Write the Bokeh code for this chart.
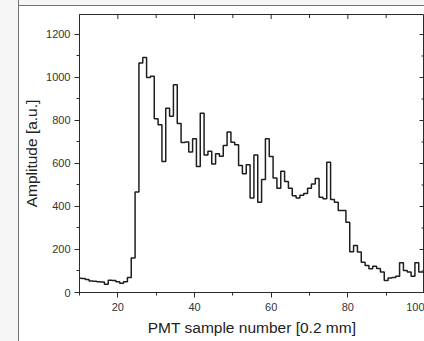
from bokeh.plotting import figure
from bokeh.models import Range1d, FixedTicker, GlobalInlineStyleSheet, Title
from bokeh.embed import file_html
from bokeh.resources import INLINE
import math

# PMT sample number (bin centres)
samples = list(range(10, 101))
# Amplitude [a.u.]
amplitude = [
    66, 65, 60, 53, 52, 50, 49, 38, 57, 56,        # 10-19
    50, 43, 50, 70, 160, 467, 1068, 1093, 1000, 1006,  # 20-29
    808, 780, 609, 857, 820, 966, 786, 698, 700, 653,  # 30-39
    715, 586, 834, 640, 657, 598, 645, 634, 684, 746,  # 40-49
    699, 687, 591, 552, 594, 439, 640, 420, 526, 715,  # 50-59
    633, 532, 485, 564, 516, 485, 450, 440, 452, 460,  # 60-69
    485, 505, 530, 443, 436, 606, 433, 420, 381, 381,  # 70-79
    327, 190, 219, 188, 141, 126, 110, 122, 112, 95,   # 80-89
    56, 67, 70, 76, 138, 102, 95, 76, 138, 95,         # 90-99
    95,                                                # 100
]
x_major = [20, 40, 60, 80, 100]
x_minor = [10, 30, 50, 70, 90]
y_major = [0, 200, 400, 600, 800, 1000, 1200]
y_minor = [100, 300, 500, 700, 900, 1100]
x_title = "PMT sample number [0.2 mm]"
y_title = "Amplitude [a.u.]"
X0, X1 = 10, 100
Y0, Y1 = 0, 1293

FONT = "Liberation Sans"
AX = "#2a2a2a"

p = figure(
    width=424, height=341,
    x_range=Range1d(X0, X1), y_range=Range1d(Y0, Y1),
    output_backend="svg", toolbar_location=None,
    min_border_left=79, min_border_right=0, min_border_top=14, min_border_bottom=49,
)
p.border_fill_color = None
p.background_fill_color = "white"
p.outline_line_color = AX
p.outline_line_width = 1
p.xgrid.visible = False
p.ygrid.visible = False

p.stylesheets = [GlobalInlineStyleSheet(css=(
    "body { background: "
    "linear-gradient(to right, #f5f5f5 0px, #f5f5f5 18px, #727272 18px, #727272 19.5px, rgba(255,255,255,0) 19.5px), "
    "linear-gradient(to bottom, #f5f5f5 0px, #f5f5f5 5px, #727272 5px, #727272 6.5px, #ffffff 6.5px); }"
))]

p.step(samples, amplitude, mode="center", line_color="#1e1e1e", line_width=1.5)

# inward ticks on the top and right frame edges
p.scatter(x_major + x_minor, [Y1] * (len(x_major) + len(x_minor)), marker="dash",
          angle=math.pi / 2, size=[9] * len(x_major) + [7] * len(x_minor),
          line_color=AX, line_width=1)
p.scatter([X1] * (len(y_major) + len(y_minor)), y_major + y_minor, marker="dash",
          size=[10] * len(y_major) + [6] * len(y_minor), line_color=AX, line_width=1)

xa = p.xaxis[0]
xa.ticker = FixedTicker(ticks=x_major, minor_ticks=x_minor)
ya = p.yaxis[0]
ya.ticker = FixedTicker(ticks=y_major, minor_ticks=y_minor)

for a in (xa, ya):
    a.axis_line_color = AX
    a.major_tick_line_color = AX
    a.minor_tick_line_color = AX
    a.major_tick_in = 0
    a.minor_tick_in = 0
    a.major_tick_out = 5
    a.minor_tick_out = 3
    a.major_label_text_font = FONT
    a.major_label_text_font_size = "11px"
    a.major_label_text_color = "#333333"

xa.major_label_standoff = 5
ya.axis_label = y_title
ya.axis_label_text_font = FONT
ya.axis_label_text_font_size = "15.5px"
ya.axis_label_text_font_style = "normal"
ya.axis_label_text_color = "#222222"
ya.major_label_standoff = 4
ya.axis_label_standoff = 3

p.add_layout(Title(text=x_title, align="center", text_font=FONT, text_font_size="15.5px",
                   text_font_style="normal", text_color="#222222", standoff=6), "below")

open("out.html", "w").write(file_html(p, INLINE))
